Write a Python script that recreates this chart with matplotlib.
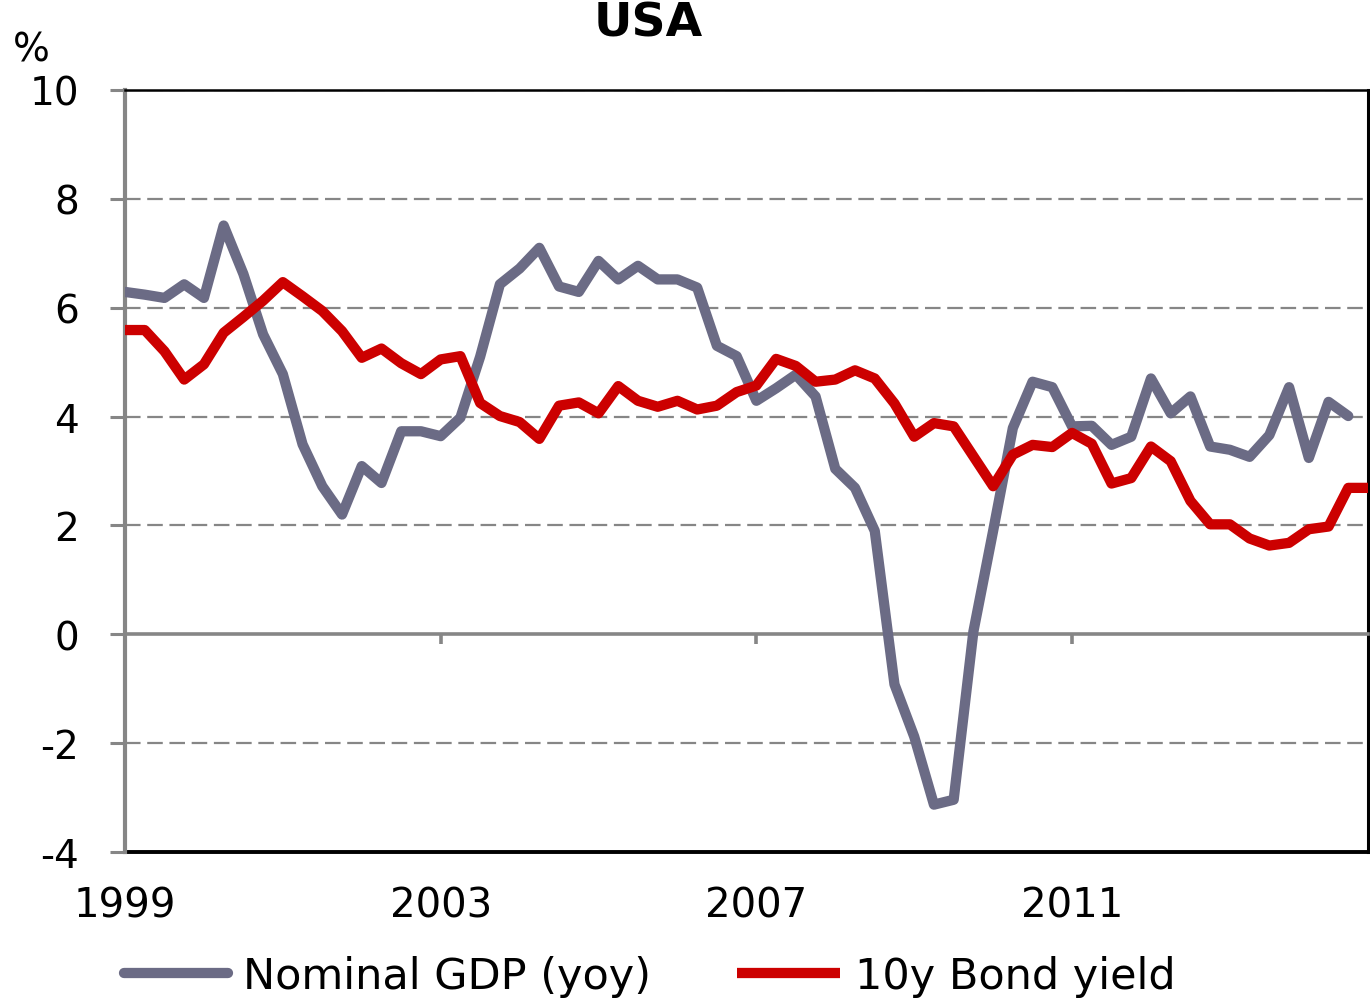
import numpy as np
import matplotlib
matplotlib.use("Agg")
import matplotlib.pyplot as plt

plt.rcParams['font.family'] = ['DejaVu Sans']

# quarterly values, 1999Q1 onwards
gdp_yoy = [6.29, 6.24, 6.18, 6.43, 6.18, 7.51, 6.62, 5.51, 4.78, 3.49,
           2.72, 2.20, 3.09, 2.78, 3.73, 3.73, 3.64, 3.98, 5.10, 6.43,
           6.72, 7.10, 6.39, 6.29, 6.86, 6.52, 6.77, 6.52, 6.52, 6.37,
           5.30, 5.11, 4.29, 4.52, 4.77, 4.37, 3.04, 2.69, 1.90, -0.92,
           -1.88, -3.13, -3.04, 0.05, 1.90, 3.79, 4.64, 4.54, 3.82, 3.83,
           3.48, 3.63, 4.70, 4.06, 4.37, 3.45, 3.39, 3.26, 3.66, 4.54,
           3.24, 4.27, 4.01]
bond_10y = [5.59, 5.59, 5.20, 4.68, 4.96, 5.54, 5.83, 6.13, 6.47, 6.21,
            5.94, 5.57, 5.08, 5.25, 4.98, 4.78, 5.05, 5.11, 4.25, 4.01,
            3.90, 3.59, 4.20, 4.26, 4.06, 4.56, 4.29, 4.18, 4.29, 4.13,
            4.20, 4.45, 4.57, 5.06, 4.93, 4.64, 4.68, 4.85, 4.70, 4.24,
            3.63, 3.88, 3.82, 3.27, 2.72, 3.30, 3.48, 3.44, 3.70, 3.50,
            2.77, 2.87, 3.45, 3.18, 2.45, 2.02, 2.02, 1.76, 1.63, 1.68,
            1.93, 1.98, 2.69, 2.69]
year_ticks = [1999, 2003, 2007, 2011]
y_ticks = [-4, -2, 0, 2, 4, 6, 8, 10]

x_gdp = 1999 + np.arange(len(gdp_yoy)) / 4
x_bond = 1999 + np.arange(len(bond_10y)) / 4

GREY = '#868686'

fig = plt.figure(figsize=(13.7, 10.04), dpi=100)
ax = fig.add_axes([125 / 1370, 151 / 1004, 1243 / 1370, 762 / 1004])

gdp_line, = ax.plot(x_gdp, gdp_yoy, color='#6b6b85', lw=7.4,
                    solid_joinstyle='round', solid_capstyle='round', zorder=3)
bond_line, = ax.plot(x_bond, bond_10y, color='#cc0000', lw=7.4,
                     solid_joinstyle='round', solid_capstyle='butt', zorder=4)

ax.set_xlim(x_bond[0], x_bond[-1])
ax.set_ylim(-4, 10)

# dashed gridlines, solid zero line
for v in y_ticks:
    if v in (-4, 0):
        continue
    ax.axhline(v, color=GREY, lw=1.6, dashes=(7, 3), zorder=1)

ax.set_yticks(y_ticks)
ax.set_yticklabels([str(v) for v in y_ticks])
ax.tick_params(axis='y', direction='out', length=11, width=2.2, color=GREY,
               labelsize=28, pad=22)

# main x axis sits on the zero line, ticks only
ax.spines['bottom'].set_position(('data', 0))
ax.spines['bottom'].set_color(GREY)
ax.spines['bottom'].set_linewidth(2.6)
ax.set_xticks(year_ticks[1:])
ax.tick_params(axis='x', direction='out', length=7, width=2.6, color=GREY,
               labelbottom=False)

ax.spines['left'].set_color(GREY)
ax.spines['left'].set_linewidth(3)
ax.spines['top'].set_color('black')
ax.spines['top'].set_linewidth(1.8)
ax.spines['right'].set_color('black')
ax.spines['right'].set_linewidth(2.2)

# year labels under the plot, frame bottom in black
sec = ax.secondary_xaxis(0)
sec.set_xticks(year_ticks)
sec.set_xticklabels([str(y) for y in year_ticks])
sec.tick_params(length=0, labelsize=29, pad=24)
sec.spines['bottom'].set_color('black')
sec.spines['bottom'].set_linewidth(2.8)

fig.text(648 / 1370, 1 - 24 / 1004, 'USA', ha='center', va='center',
         fontsize=34, fontweight='bold')
fig.text(31 / 1370, 1 - 50 / 1004, '%', ha='center', va='center', fontsize=28)

fig.legend([gdp_line, bond_line], ['Nominal GDP (yoy)', '10y Bond yield'],
           loc='center', bbox_to_anchor=(650 / 1370, 1 - 977 / 1004),
           ncol=2, frameon=False, fontsize=31, handlelength=2.4,
           handletextpad=0.35, columnspacing=2.0)

fig.savefig('out.png', dpi=100)
